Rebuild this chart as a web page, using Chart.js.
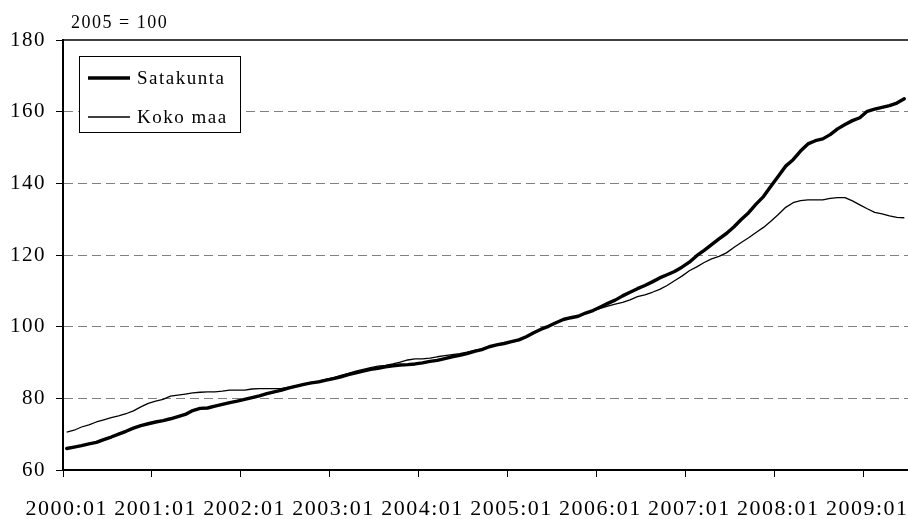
<!DOCTYPE html>
<html>
<head>
<meta charset="utf-8">
<script src="https://cdn.jsdelivr.net/npm/chart.js@4/dist/chart.umd.min.js"></script>
<style>
  html, body { margin: 0; padding: 0; background: #fff; }
  canvas { display: block; }
</style>
</head>
<body>
<canvas id="chart" width="908" height="519"></canvas>
<script>
// Monthly house price index, 2005 = 100
const years = [2000, 2001, 2002, 2003, 2004, 2005, 2006, 2007, 2008, 2009];
const monthCodes = ['01','02','03','04','05','06','07','08','09','10','11','12'];
const lastMonth = '2009:06';

const seriesNames = ['Satakunta', 'Koko maa'];
const baseNote = '2005 = 100';

const satakunta = [
  66.0, 66.4, 66.8, 67.3, 67.7, 68.5, 69.2, 70.0, 70.8, 71.7, 72.4, 72.9,
  73.4, 73.8, 74.3, 74.9, 75.5, 76.6, 77.2, 77.3, 77.8, 78.3, 78.8, 79.2,
  79.7, 80.2, 80.7, 81.3, 81.8, 82.3, 82.9, 83.4, 83.9, 84.3, 84.6, 85.1,
  85.5, 86.0, 86.6, 87.1, 87.6, 88.1, 88.4, 88.8, 89.1, 89.3, 89.4, 89.6,
  89.9, 90.3, 90.6, 91.1, 91.6, 92.0, 92.5, 93.1, 93.6, 94.4, 94.9, 95.3,
  95.8, 96.3, 97.2, 98.3, 99.3, 100.1, 101.1, 102.0, 102.5, 102.9, 103.8, 104.5,
  105.5, 106.5, 107.4, 108.6, 109.6, 110.6, 111.5, 112.5, 113.6, 114.5, 115.4, 116.6,
  118.0, 119.8, 121.3, 122.9, 124.5, 126.0, 127.8, 129.9, 131.8, 134.2, 136.3, 139.2,
  142.0, 144.8, 146.6, 149.0, 151.0, 151.9, 152.4, 153.6, 155.2, 156.4, 157.5, 158.3,
  160.1, 160.7, 161.2, 161.7, 162.4, 163.6
];

const kokoMaa = [
  70.6, 71.1, 72.0, 72.6, 73.4, 74.0, 74.6, 75.1, 75.7, 76.5, 77.6, 78.6,
  79.2, 79.7, 80.6, 80.9, 81.2, 81.5, 81.7, 81.8, 81.8, 82.0, 82.3, 82.3,
  82.3, 82.6, 82.7, 82.7, 82.7, 82.8, 83.1, 83.5, 83.9, 84.4, 84.8, 85.3,
  85.8, 86.4, 87.0, 87.6, 88.1, 88.6, 89.0, 89.2, 89.6, 90.1, 90.7, 91.0,
  91.0, 91.2, 91.6, 91.9, 92.2, 92.5, 92.9, 93.4, 93.8, 94.4, 94.9, 95.3,
  95.7, 96.2, 97.1, 98.3, 99.3, 100.1, 101.2, 102.0, 102.3, 103.0, 103.7, 104.5,
  105.1, 105.7, 106.3, 106.8, 107.5, 108.4, 108.9, 109.6, 110.4, 111.5, 112.8, 114.1,
  115.6, 116.7, 117.9, 118.9, 119.6, 120.6, 122.1, 123.5, 124.8, 126.3, 127.7, 129.4,
  131.3, 133.3, 134.6, 135.2, 135.4, 135.4, 135.4, 135.8, 136.0, 136.0, 135.1, 134.0,
  132.9, 131.9, 131.5, 130.9, 130.5, 130.4
];

const yTicks = [60, 80, 100, 120, 140, 160, 180];

// Category labels "YYYY:MM" up to the last published month
const labels = [];
for (const y of years) {
  for (const m of monthCodes) {
    const code = y + ':' + m;
    labels.push(code);
    if (code === lastMonth) break;
  }
}
const isYearStart = i => labels[i] !== undefined && labels[i].endsWith(':01');

const FONT = "'Liberation Serif', 'Times New Roman', serif";
const LETTER_SPACING = '1.5px';

// Slightly open tracking for all canvas text
const tracking = {
  id: 'tracking',
  beforeLayout(chart) { chart.ctx.letterSpacing = LETTER_SPACING; },
  beforeDraw(chart) { chart.ctx.letterSpacing = LETTER_SPACING; }
};

// Frame line along the top, index base note and the boxed legend
const decorations = {
  id: 'decorations',
  afterDraw(chart) {
    const { ctx, chartArea } = chart;
    const yScale = chart.scales.y;
    const topY = yScale.getPixelForValue(yTicks[yTicks.length - 1]);
    ctx.save();

    ctx.strokeStyle = '#000';
    ctx.lineWidth = 1.5;
    ctx.beginPath();
    ctx.moveTo(chartArea.left, topY);
    ctx.lineTo(chartArea.right, topY);
    ctx.stroke();

    ctx.fillStyle = '#000';
    ctx.font = '18px ' + FONT;
    ctx.textAlign = 'left';
    ctx.textBaseline = 'alphabetic';
    ctx.fillText(baseNote, chartArea.left + 8, topY - 12);

    // legend box
    const bx = chartArea.left + 16, by = chartArea.top + 16, bw = 161, bh = 76;
    ctx.fillStyle = '#fff';
    ctx.fillRect(bx, by, bw, bh);
    ctx.strokeStyle = '#000';
    ctx.lineWidth = 1;
    ctx.strokeRect(bx + 0.5, by + 0.5, bw, bh);

    ctx.font = '19px ' + FONT;
    ctx.textBaseline = 'middle';
    chart.data.datasets.forEach((ds, i) => {
      const rowY = by + 22 + i * 39;
      ctx.strokeStyle = ds.borderColor;
      ctx.lineWidth = ds.borderWidth;
      ctx.beginPath();
      ctx.moveTo(bx + 9, rowY);
      ctx.lineTo(bx + 51, rowY);
      ctx.stroke();
      ctx.fillStyle = '#000';
      ctx.fillText(ds.label, bx + 58, rowY + 1);
    });
    ctx.restore();
  }
};

new Chart(document.getElementById('chart'), {
  type: 'line',
  data: {
    labels: labels,
    datasets: [
      {
        label: seriesNames[0],
        data: satakunta,
        borderColor: '#000',
        borderWidth: 3.4,
        pointRadius: 0,
        tension: 0,
        borderJoinStyle: 'round',
        borderCapStyle: 'round'
      },
      {
        label: seriesNames[1],
        data: kokoMaa,
        borderColor: '#000',
        borderWidth: 1.3,
        pointRadius: 0,
        tension: 0,
        borderJoinStyle: 'round'
      }
    ]
  },
  options: {
    responsive: false,
    animation: false,
    devicePixelRatio: 1,
    layout: { padding: { top: 40, right: 0, left: 0, bottom: 0 } },
    plugins: {
      legend: { display: false },
      tooltip: { enabled: false }
    },
    scales: {
      x: {
        type: 'category',
        offset: true,
        grid: {
          offset: true,
          drawOnChartArea: false,
          tickLength: 7,
          lineWidth: 1,
          color: ctx => isYearStart(ctx.index) ? '#000' : 'rgba(0,0,0,0)',
          tickColor: ctx => isYearStart(ctx.index) ? '#000' : 'rgba(0,0,0,0)'
        },
        border: { display: true, color: '#000', width: 2 },
        ticks: {
          autoSkip: false,
          maxRotation: 0,
          minRotation: 0,
          padding: 0,
          color: '#000',
          font: { family: FONT, size: 22, lineHeight: 2.96 },
          callback: (value, index) => isYearStart(index) ? labels[index] : ''
        },
        afterFit: scale => { scale.height = 49; }
      },
      y: {
        min: yTicks[0],
        max: yTicks[yTicks.length - 1],
        afterBuildTicks: scale => { scale.ticks = yTicks.map(v => ({ value: v })); },
        grid: {
          tickLength: 7,
          lineWidth: 1,
          color: ctx => (ctx.tick && (ctx.tick.value === yTicks[0] || ctx.tick.value === yTicks[yTicks.length - 1])) ? 'rgba(0,0,0,0)' : '#808080',
          tickColor: '#000',
          tickWidth: 1
        },
        border: { display: true, color: '#000', width: 2, dash: [9, 5] },
        ticks: {
          padding: 10,
          color: '#000',
          font: { family: FONT, size: 21 }
        },
        afterFit: scale => { scale.width = 63; }
      }
    }
  },
  plugins: [tracking, decorations]
});
</script>
</body>
</html>
